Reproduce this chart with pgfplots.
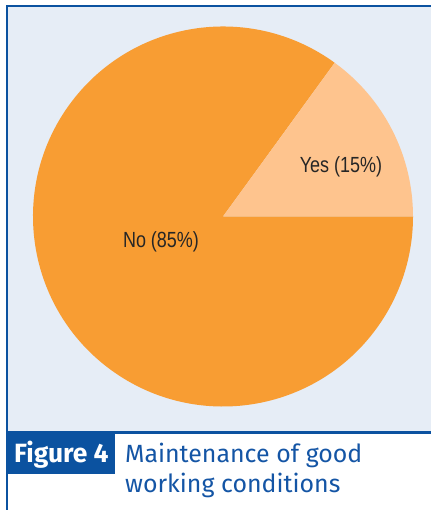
\documentclass[border=0pt]{standalone}
\usepackage{fontspec}
\setmainfont{Fira Sans}
\newfontfamily\labelfont[FakeStretch=0.82]{Liberation Sans}
\usepackage{pgfplots}
\usepackage{pgfplotstable}
\pgfplotsset{compat=1.18}

\definecolor{bgblue}{RGB}{230,237,246}
\definecolor{frameblue}{RGB}{11,82,160}
\definecolor{nocol}{RGB}{248,157,51}
\definecolor{yescol}{RGB}{254,196,142}
\definecolor{capblue}{RGB}{20,85,165}

% share of answers, in percent
\pgfplotstableread{
label value
Yes   15
No    85
}\pietable
\pgfplotstablegetelem{0}{value}\of\pietable \let\yesval\pgfplotsretval
\pgfplotstablegetelem{1}{value}\of\pietable \let\noval\pgfplotsretval
\pgfplotstablegetelem{0}{label}\of\pietable \let\yeslab\pgfplotsretval
\pgfplotstablegetelem{1}{label}\of\pietable \let\nolab\pgfplotsretval
\pgfmathsetmacro\yesend{3.6*\yesval}

\begin{document}
\begin{tikzpicture}
\begin{axis}[
    x=1bp, y=1bp,
    xmin=0, xmax=431,
    ymin=0, ymax=510,
    hide axis,
    clip=false,
]
% whole page
\path (axis cs:0,0) rectangle (axis cs:431,510);
% panel
\fill[bgblue] (axis cs:8,79) rectangle (axis cs:431,503);
\fill[frameblue] (axis cs:6,503) rectangle (axis cs:431,505);
\fill[frameblue] (axis cs:6,0) rectangle (axis cs:8,505);
\fill[frameblue] (axis cs:6,76) rectangle (axis cs:431,79);
\fill[frameblue] (axis cs:6,36) rectangle (axis cs:115,77);

% pie
\fill[nocol] (axis cs:223,293.5) -- ++(\yesend:190bp)
    arc[start angle=\yesend, end angle=360, radius=190bp] -- cycle;
\fill[yescol] (axis cs:223,293.5) -- ++(0:190bp)
    arc[start angle=0, end angle=\yesend, radius=190bp] -- cycle;

\node[font=\labelfont\fontsize{22}{26}\selectfont, text=black!85]
    at (axis cs:341,343) {\yeslab\ (\yesval\%)};
\node[font=\labelfont\fontsize{22}{26}\selectfont, text=black!85]
    at (axis cs:161,268) {\nolab\ (\noval\%)};

% caption
\node[anchor=base west, inner sep=0, text=white,
      font=\bfseries\fontsize{26.5}{30}\selectfont]
    at (axis cs:14,47) {Figure 4};
\node[anchor=base west, inner sep=0, text=capblue,
      font=\fontsize{25}{30}\selectfont]
    at (axis cs:125,47) {Maintenance of good};
\node[anchor=base west, inner sep=0, text=capblue,
      font=\fontsize{25}{30}\selectfont]
    at (axis cs:125,17) {working conditions};
\end{axis}
\end{tikzpicture}
\end{document}
